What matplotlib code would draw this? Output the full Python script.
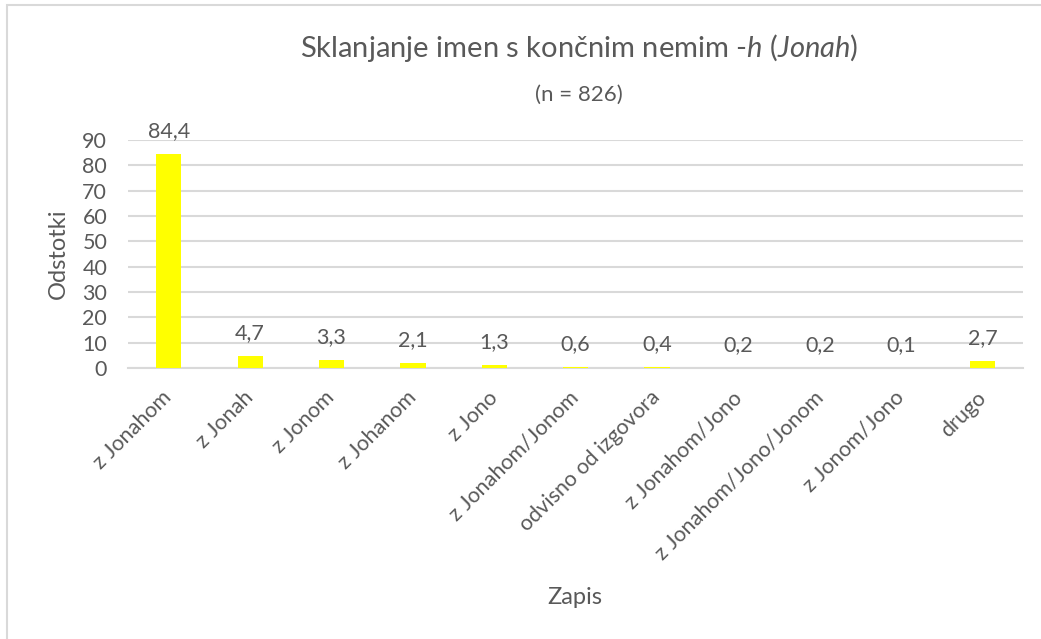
import matplotlib.pyplot as plt
from matplotlib.patches import Rectangle

plt.rcParams['font.family'] = ['Lato', 'DejaVu Sans']
plt.rcParams['mathtext.fontset'] = 'custom'
plt.rcParams['mathtext.rm'] = 'Lato'
plt.rcParams['mathtext.it'] = 'Lato:italic'

kategorije = ["z Jonahom", "z Jonah", "z Jonom", "z Johanom", "z Jono",
              "z Jonahom/Jonom", "odvisno od izgovora", "z Jonahom/Jono",
              "z Jonahom/Jono/Jonom", "z Jonom/Jono", "drugo"]
odstotki = [84.4, 4.7, 3.3, 2.1, 1.3, 0.6, 0.4, 0.2, 0.2, 0.1, 2.7]
y_ticks = list(range(0, 91, 10))

siva = "#595959"
crta = "#D9D9D9"

fig = plt.figure(figsize=(10.41, 6.39), dpi=100)
ax = fig.add_axes([0.123, 0.424, 0.86, 0.357])

x = list(range(len(kategorije)))
bars = ax.bar(x, odstotki, width=0.31, color="#FFFF00", zorder=3)

# oznake nad stolpci
for b, v in zip(bars, odstotki):
    ax.annotate(f"{v:.1f}".replace(".", ","),
                (b.get_x() + b.get_width() / 2, b.get_height()),
                xytext=(0, 12), textcoords="offset points",
                ha="center", va="baseline", fontsize=15.5, color=siva)

ax.set_xlim(-0.5, len(kategorije) - 0.5)
ax.set_ylim(0, 90)
ax.set_yticks(y_ticks)
ax.set_xticks(x)
ax.set_xticklabels(kategorije, rotation=45, ha="right", va="center",
                   rotation_mode="anchor", fontsize=15.5, color=siva)
ax.tick_params(axis="x", length=0, pad=19)
ax.tick_params(axis="y", length=0, pad=15, labelsize=15.5, labelcolor=siva)

ax.grid(axis="y", color=crta, linewidth=1.5, zorder=0)
for s in ["top", "right", "left"]:
    ax.spines[s].set_visible(False)
ax.spines["bottom"].set_color(crta)
ax.spines["bottom"].set_linewidth(1.5)

ax.set_ylabel("Odstotki", fontsize=17, color=siva)
ax.yaxis.set_label_coords(-0.066, 0.5)
fig.text(0.552, 0.065, "Zapis", ha="center", va="center", fontsize=17, color=siva)

fig.text(0.556, 0.925, "Sklanjanje imen s končnim nemim -$\\it{h}$ ($\\it{Jonah}$)",
         ha="center", va="center", fontsize=21, color=siva)
fig.text(0.556, 0.851, "(n = 826)", ha="center", va="center", fontsize=16, color=siva)

# okvir grafikona
fig.patches.append(Rectangle((7 / 1041, -0.1), 1.2, 1.1 - 5 / 639,
                             transform=fig.transFigure, fill=False,
                             edgecolor=crta, linewidth=1.5))

fig.savefig("out.png", dpi=100)
